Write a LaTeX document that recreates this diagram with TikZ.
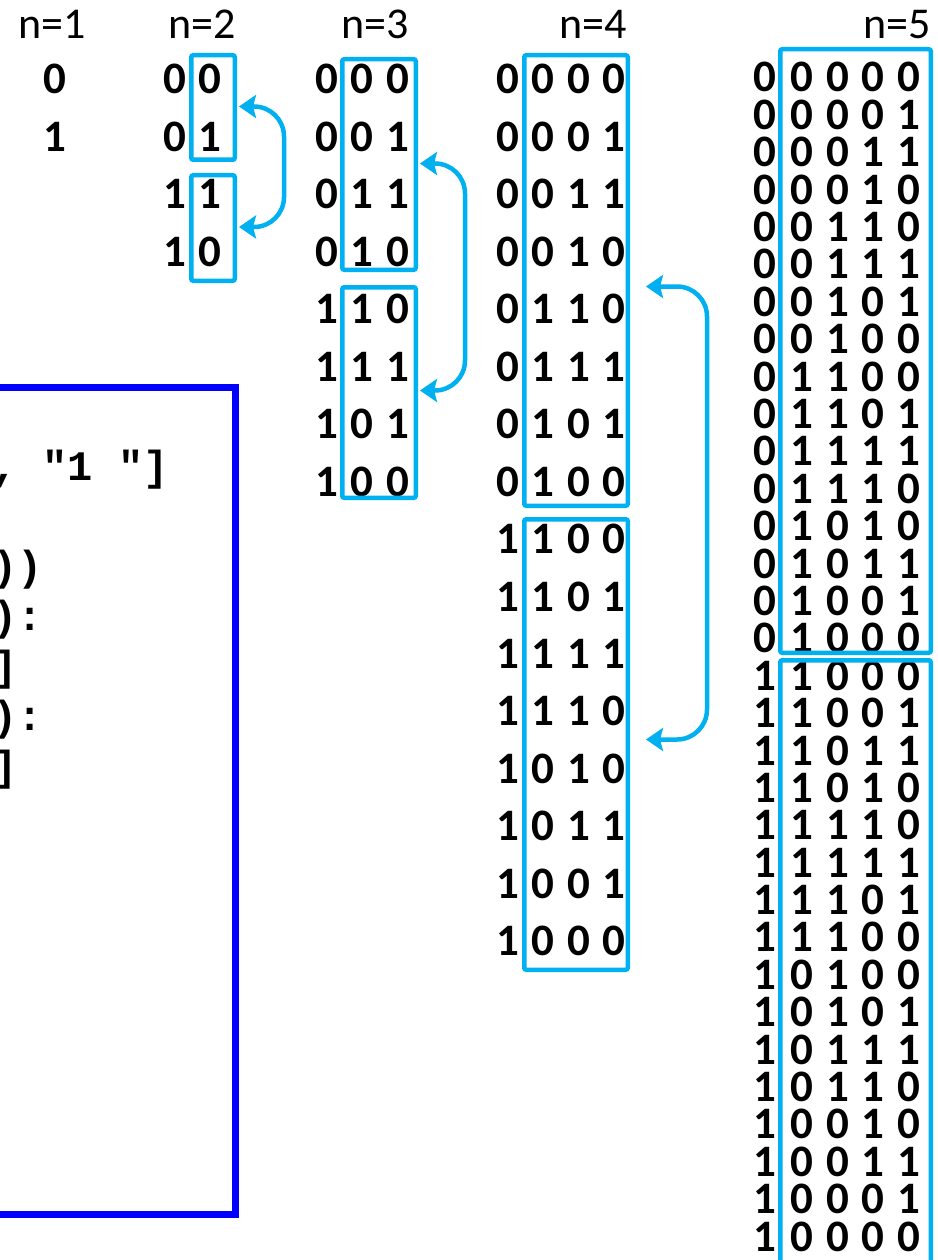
\documentclass[tikz,border=0pt]{standalone}
\usepackage{fontspec}
\setmainfont{Carlito}
\newfontfamily\codefont{Liberation Mono}
\usetikzlibrary{arrows.meta,calc}
\definecolor{grpblue}{HTML}{00B0F0}
\definecolor{codeblue}{HTML}{0000FF}

% spread a string of bits over fixed-width cells
\newcommand\spreadbits[1]{\spreadaux#1\relax}
\def\spreadaux#1{\ifx\relax#1\else\makebox[35.5pt]{#1}\expandafter\spreadaux\fi}

\begin{document}
\begin{tikzpicture}[x=1pt,y=-1pt,
  bit/.style={font=\fontsize{45}{45}\selectfont\bfseries, inner sep=0pt, anchor=base},
  rest/.style={bit, anchor=base west},
  head/.style={font=\fontsize{44}{44}\selectfont, inner sep=0pt, anchor=base},
  grp/.style={draw=grpblue, line width=4.5pt, rounded corners=2pt, inner sep=0pt},
  flip/.style={draw=grpblue, line width=4.5pt, rounded corners=30pt,
    {Stealth[length=17pt,width=23pt,inset=3pt]}-{Stealth[length=17pt,width=23pt,inset=3pt]}},
  codebox/.style={draw=codeblue, line width=7pt, inner sep=0pt},
  code/.style={font=\fontsize{42}{42}\selectfont\codefont\bfseries, inner sep=0pt, anchor=base west}]
\useasboundingbox (0,0) rectangle (937,1260);
\clip (0,0) rectangle (937,1260);

% code panel (continues past the left edge)
\node[codebox, minimum width=535.5pt, minimum height=827pt] (code) at (-32.25,800.5) {};
\node[code] (cl1) at (-8,480) {, "1 "]};
\node[code] (cl2) at (-8,580) {))};
\node[code] (cl3) at (-8,630) {):};
\node[code] (cl4) at (-8,680) {]};
\node[code] (cl5) at (-8,730) {):};
\node[code] (cl6) at (-8,780) {]};

% headers
\node[head] (h1) at (52,39) {n=1};
\node[head] (h2) at (202,39) {n=2};
\node[head] (h3) at (375,39) {n=3};
\node[head] (h4) at (593,39) {n=4};
\node[head] (h5) at (897,39) {n=5};

% n=1
\node[bit] (c1r1) at (55,94) {0};
\node[bit] (c1r2) at (55,151.45) {1};

% n=2
\foreach \f/\r [count=\i] in {0/0,0/1,1/1,1/0} {
  \pgfmathsetmacro\yb{94+(\i-1)*57.45}
  \node[bit] (c2f\i) at (175,\yb) {\f};
  \node[rest] (c2r\i) at (192.25,\yb) {\expandafter\spreadbits\expandafter{\r}};
}
% n=3
\foreach \f/\r [count=\i] in {0/00,0/01,0/11,0/10,1/10,1/11,1/01,1/00} {
  \pgfmathsetmacro\yb{94+(\i-1)*57.45}
  \node[bit] (c3f\i) at (327,\yb) {\f};
  \node[rest] (c3r\i) at (344.25,\yb) {\expandafter\spreadbits\expandafter{\r}};
}
% n=4
\foreach \f/\r [count=\i] in {0/000,0/001,0/011,0/010,0/110,0/111,0/101,0/100,
                              1/100,1/101,1/111,1/110,1/010,1/011,1/001,1/000} {
  \pgfmathsetmacro\yb{94+(\i-1)*57.45}
  \node[bit] (c4f\i) at (508,\yb) {\f};
  \node[rest] (c4r\i) at (525.25,\yb) {\expandafter\spreadbits\expandafter{\r}};
}
% n=5
\foreach \f/\r [count=\i] in {0/0000,0/0001,0/0011,0/0010,0/0110,0/0111,0/0101,0/0100,
                              0/1100,0/1101,0/1111,0/1110,0/1010,0/1011,0/1001,0/1000,
                              1/1000,1/1001,1/1011,1/1010,1/1110,1/1111,1/1101,1/1100,
                              1/0100,1/0101,1/0111,1/0110,1/0010,1/0011,1/0001,1/0000} {
  \pgfmathsetmacro\yb{92+(\i-1)*37.39}
  \node[bit] (c5f\i) at (765,\yb) {\f};
  \node[rest] (c5r\i) at (784.25,\yb) {\expandafter\spreadbits\expandafter{\r}};
}

% reflected halves
\node[grp, minimum width=43.5pt, minimum height=104.5pt] (b2a) at (213,107.5) {};
\node[grp, minimum width=43.5pt, minimum height=105.5pt] (b2b) at (213,228) {};
\node[grp, minimum width=73.5pt, minimum height=210.5pt] (b3a) at (379,164.5) {};
\node[grp, minimum width=73.5pt, minimum height=210.5pt] (b3b) at (379,392.5) {};
\node[grp, minimum width=103.5pt, minimum height=450.5pt] (b4a) at (576,280.5) {};
\node[grp, minimum width=103.5pt, minimum height=450.5pt] (b4b) at (576,744.5) {};
\node[grp, minimum width=150.5pt, minimum height=603.5pt] (b5a) at (855.5,351) {};
\node[grp, minimum width=150.5pt, minimum height=603.5pt] (b5b) at (855.5,962) {};

% mirror arrows
\draw[flip] ($(b2a.east)+(2,-1)$) -| ($(b2a.east)!.5!(b2b.east)+(47,0)$) |- ($(b2b.east)+(2,-1)$);
\draw[flip] ($(b3a.east)+(2,-1)$) -| ($(b3a.east)!.5!(b3b.east)+(47,0)$) |- ($(b3b.east)+(2,-2)$);
\draw[flip] ($(b4a.east)+(16,6)$) -| ($(b4a.east)!.5!(b4b.east)+(77,0)$) |- ($(b4b.east)+(16,-5)$);
\draw[flip] ($(b5a.east)+(4,11)$) -| ($(b5a.east)!.5!(b5b.east)+(50,0)$) |- ($(b5b.east)+(4,-22)$);
\end{tikzpicture}
\end{document}
